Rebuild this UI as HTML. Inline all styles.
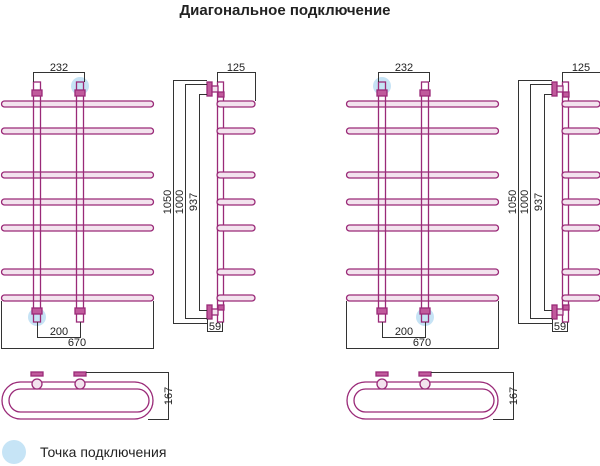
<!DOCTYPE html>
<html><head><meta charset="utf-8"><style>
html,body{margin:0;padding:0;background:#fff;}
svg{display:block;}
text{font-family:"Liberation Sans",sans-serif;}
</style></head><body>
<svg width="600" height="466" viewBox="0 0 600 466" xmlns="http://www.w3.org/2000/svg">
<defs>
<g id="front">
  <!-- bars -->
  <g fill="#f3e3ee" stroke="#9a2a78" stroke-width="1.3">
    <rect x="1.5" y="101" width="152" height="6" rx="3"/>
    <rect x="1.5" y="128" width="152" height="6" rx="3"/>
    <rect x="1.5" y="172" width="152" height="6" rx="3"/>
    <rect x="1.5" y="199" width="152" height="6" rx="3"/>
    <rect x="1.5" y="225" width="152" height="6" rx="3"/>
    <rect x="1.5" y="269" width="152" height="6" rx="3"/>
    <rect x="1.5" y="295" width="152" height="6" rx="3"/>
    <rect x="33.5" y="82" width="7" height="240" fill="none"/>
    <rect x="76.5" y="82" width="7" height="240" fill="none"/>
    <rect x="32" y="90" width="10" height="6" fill="#c05a9c"/>
    <rect x="75" y="90" width="10" height="6" fill="#c05a9c"/>
    <rect x="32" y="308" width="10" height="6" fill="#c05a9c"/>
    <rect x="75" y="308" width="10" height="6" fill="#c05a9c"/>
  </g>
  <!-- dims -->
  <g stroke="#333" stroke-width="1" fill="none">
    <path d="M33.5 82V72.5H84.5V82"/>
    <path d="M1.5 301V348.5H153.5V301"/>
    <path d="M37.5 322V337.5H80.5V322"/>
  </g>
  <g font-size="11" fill="#222" text-anchor="middle">
    <text x="59" y="71">232</text>
    <text x="59" y="335">200</text>
    <text x="77" y="346">670</text>
  </g>
  <!-- side -->
  <g fill="#f3e3ee" stroke="#9a2a78" stroke-width="1.3">
    <rect x="217.5" y="82" width="6" height="240" fill="none"/>
    <rect x="217" y="101" width="38" height="6" rx="3"/>
    <rect x="217" y="128" width="38" height="6" rx="3"/>
    <rect x="217" y="172" width="38" height="6" rx="3"/>
    <rect x="217" y="199" width="38" height="6" rx="3"/>
    <rect x="217" y="225" width="38" height="6" rx="3"/>
    <rect x="217" y="269" width="38" height="6" rx="3"/>
    <rect x="217" y="295" width="38" height="6" rx="3"/>
    <rect x="207" y="82" width="5" height="14" fill="#c05a9c"/>
    <rect x="212" y="86" width="6" height="6"/>
    <rect x="218" y="92" width="6" height="5" fill="#c05a9c"/>
    <rect x="207" y="305" width="5" height="14" fill="#c05a9c"/>
    <rect x="212" y="309" width="6" height="6"/>
    <rect x="218" y="305" width="6" height="5" fill="#c05a9c"/>
  </g>
  <g stroke="#333" stroke-width="1" fill="none">
    <path d="M207 80.5H173.5V323.5H207"/>
    <path d="M207 84.5H185.5V318.5H207"/>
    <path d="M207 94.5H199.5V310.5H207"/>
    <path d="M217.5 82V72.5H255.5V101"/>
    <path d="M207.5 319V331.5H222.5V322"/>
  </g>
  <g font-size="11" fill="#222" text-anchor="middle">
    <text x="236" y="71">125</text>
    <text x="215" y="330">59</text>
    <text transform="translate(171,202) rotate(-90)">1050</text>
    <text transform="translate(183,202) rotate(-90)">1000</text>
    <text transform="translate(197,202) rotate(-90)">937</text>
  </g>
  <!-- bottom view -->
  <g fill="none" stroke="#9a2a78" stroke-width="1.3">
    <rect x="2" y="382" width="151" height="37" rx="18.5"/>
    <rect x="9" y="389" width="140" height="23" rx="11.5"/>
    <rect x="31" y="372" width="12" height="4" fill="#c05a9c"/>
    <rect x="74" y="372" width="12" height="4" fill="#c05a9c"/>
    <circle cx="37" cy="384" r="5" fill="#f3e3ee"/>
    <circle cx="80" cy="384" r="5" fill="#f3e3ee"/>
  </g>
  <g stroke="#333" stroke-width="1" fill="none">
    <path d="M86 372.5H168.5V419.5H148"/>
  </g>
  <text transform="translate(172,396) rotate(-90)" font-size="11" fill="#222" text-anchor="middle">167</text>
</g>
</defs>
<text x="285" y="15" font-size="15" font-weight="bold" fill="#222" text-anchor="middle">Диагональное подключение</text>
<circle cx="80" cy="86" r="9" fill="#b8dcf2" opacity="0.8"/>
<circle cx="37" cy="317" r="9" fill="#b8dcf2" opacity="0.8"/>
<circle cx="382" cy="86" r="9" fill="#b8dcf2" opacity="0.8"/>
<circle cx="425" cy="317" r="9" fill="#b8dcf2" opacity="0.8"/>
<use href="#front"/>
<use href="#front" transform="translate(345,0)"/>
<circle cx="14" cy="452" r="12" fill="#c6e4f6"/>
<text x="40" y="457" font-size="14" fill="#222">Точка подключения</text>
</svg>
</body></html>
